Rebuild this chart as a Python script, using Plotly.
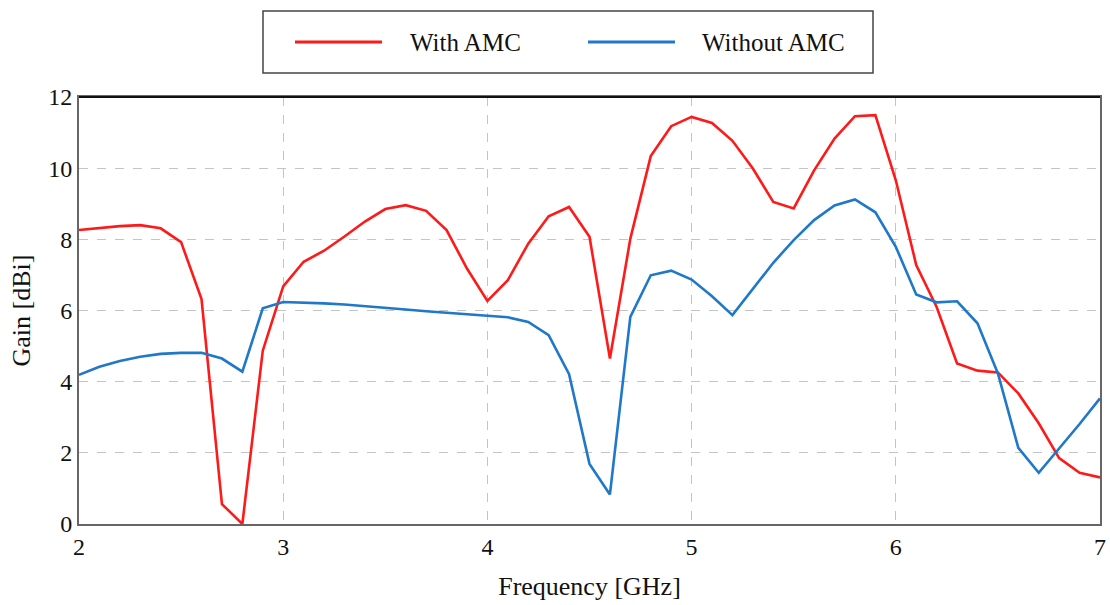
import plotly.graph_objects as go

# Frequency sweep, 2.0 - 7.0 GHz in 0.1 GHz steps
freq_ghz = [round(2.0 + 0.1 * i, 1) for i in range(51)]

gain_with_amc = [
    8.26, 8.32, 8.37, 8.40, 8.31, 7.92, 6.32, 0.56, 0.00, 4.87,
    6.68, 7.37, 7.68, 8.08, 8.50, 8.85, 8.96, 8.80, 8.26, 7.18,
    6.27, 6.85, 7.88, 8.65, 8.91, 8.07, 4.65, 8.02, 10.34, 11.18,
    11.44, 11.27, 10.77, 9.99, 9.05, 8.87, 9.94, 10.83, 11.46, 11.49,
    9.66, 7.28, 6.10, 4.51, 4.31, 4.26, 3.67, 2.83, 1.85, 1.44,
    1.31,
]

gain_without_amc = [
    4.19, 4.42, 4.58, 4.70, 4.78, 4.81, 4.81, 4.65, 4.28, 6.06,
    6.24, 6.23, 6.20, 6.17, 6.13, 6.07, 6.03, 5.98, 5.94, 5.90,
    5.86, 5.81, 5.68, 5.31, 4.21, 1.69, 0.83, 5.82, 6.99, 7.12,
    6.87, 6.40, 5.87, 6.59, 7.34, 7.98, 8.54, 8.95, 9.12, 8.76,
    7.79, 6.45, 6.23, 6.26, 5.64, 4.23, 2.14, 1.44, 2.11, 2.81,
    3.53,
]

series_names = ["With AMC", "Without AMC"]
series_colors = ["#ff1a1a", "#1f78c8"]

x_ticks = [2, 3, 4, 5, 6, 7]
y_ticks = [0, 2, 4, 6, 8, 10, 12]

W, H = 1110, 605
ML, MR, MT, MB = 79, 10, 97, 81
FONT = "Liberation Serif, Times New Roman, serif"

fig = go.Figure()
for name, ys, color in zip(series_names, [gain_with_amc, gain_without_amc], series_colors):
    fig.add_trace(go.Scatter(
        x=freq_ghz, y=ys, mode="lines", name=name,
        line=dict(color=color, width=2.6),
        showlegend=False,
    ))

axis_common = dict(
    showline=True, mirror=True, linecolor="#666666", linewidth=2,
    showgrid=True, gridcolor="#c4c4c4", griddash="dash", gridwidth=1.2,
    zeroline=False, ticks="", automargin=False,
    tickfont=dict(family=FONT, size=24, color="#111111"),
)

fig.update_xaxes(
    range=[2, 7], tickvals=x_ticks,
    title=dict(text="Frequency [GHz]", font=dict(family=FONT, size=26, color="#111111"), standoff=18),
    **axis_common,
)
fig.update_yaxes(
    range=[0, 12], tickvals=y_ticks,
    title=dict(text="Gain [dBi]", font=dict(family=FONT, size=26, color="#111111"), standoff=10),
    **axis_common,
)

# Dark top border of the plot frame
fig.add_shape(type="line", xref="paper", yref="paper", x0=0, x1=1, y0=1, y1=1,
              line=dict(color="#111111", width=2))

# Boxed legend above the plot area (paper coords span the plot area)
PW, PH = W - ML - MR, H - MT - MB

def px_x(p):
    return (p - ML) / PW

def px_y(p):
    return (H - MB - p) / PH

box = dict(x0=263, x1=873, y0=11, y1=73)
fig.add_shape(type="rect", xref="paper", yref="paper",
              x0=px_x(box["x0"]), x1=px_x(box["x1"]),
              y0=px_y(box["y1"]), y1=px_y(box["y0"]),
              line=dict(color="#444444", width=1.5), fillcolor="white", layer="above")

legend_items = [(295, 382, 408), (588, 675, 700)]
for (lx0, lx1, tx), name, color in zip(legend_items, series_names, series_colors):
    fig.add_shape(type="line", xref="paper", yref="paper",
                  x0=px_x(lx0), x1=px_x(lx1), y0=px_y(42), y1=px_y(42),
                  line=dict(color=color, width=3))
    fig.add_annotation(xref="paper", yref="paper", x=px_x(tx), y=px_y(42),
                       text=name, showarrow=False, xanchor="left", yanchor="middle",
                       font=dict(family=FONT, size=25, color="#111111"))

fig.update_layout(
    width=W, height=H,
    margin=dict(l=ML, r=MR, t=MT, b=MB),
    paper_bgcolor="white", plot_bgcolor="white",
)

fig.write_html("out.html")
